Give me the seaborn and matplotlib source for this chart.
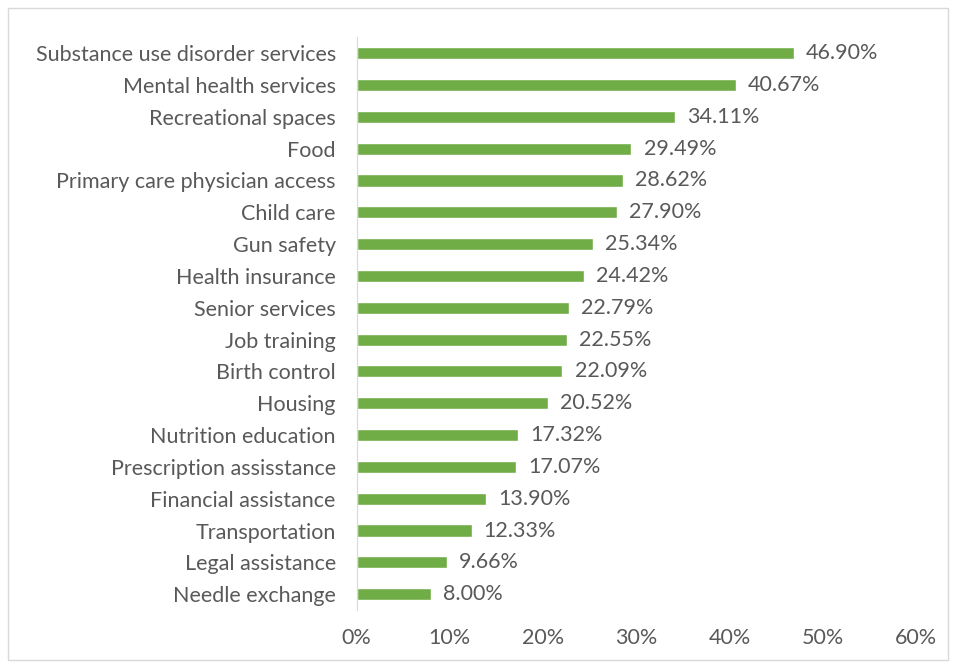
import seaborn as sns
import matplotlib.pyplot as plt
import matplotlib.patches as mpatches
import pandas as pd

servicios = ["Substance use disorder services", "Mental health services", "Recreational spaces",
             "Food", "Primary care physician access", "Child care", "Gun safety",
             "Health insurance", "Senior services", "Job training", "Birth control", "Housing",
             "Nutrition education", "Prescription assisstance", "Financial assistance",
             "Transportation", "Legal assistance", "Needle exchange"]
porcentajes = [46.90, 40.67, 34.11, 29.49, 28.62, 27.90, 25.34, 24.42, 22.79, 22.55,
               22.09, 20.52, 17.32, 17.07, 13.90, 12.33, 9.66, 8.00]

df = pd.DataFrame({"servicio": servicios, "pct": porcentajes})

sns.set_style("white")
plt.rcParams['font.family'] = ['Lato', 'DejaVu Sans']
gris = "#595959"
tam = 15.5

fig = plt.figure(figsize=(9.56, 6.66), dpi=100)
ax = fig.add_axes([0.373, 0.084, 0.585, 0.860])
sns.barplot(data=df, x="pct", y="servicio", color="#70ad47", width=0.38,
            saturation=1, ax=ax)

for i, v in enumerate(porcentajes):
    ax.text(v + 1.3, i, f"{v:.2f}%", va="center", ha="left", fontsize=tam, color=gris)

ax.set_xlim(0, 60)
ax.set_xticks(range(0, 61, 10))
ax.set_xticklabels([f"{t}%" for t in range(0, 61, 10)], fontsize=tam, color=gris)
ax.tick_params(axis="y", labelsize=tam, labelcolor=gris, length=0, pad=15)
ax.tick_params(axis="x", length=0, pad=13)
ax.set_xlabel("")
ax.set_ylabel("")
for lado in ["top", "right", "bottom"]:
    ax.spines[lado].set_visible(False)
ax.spines["left"].set_color("#d9d9d9")

# marco del grafico
fig.patches.append(mpatches.Rectangle((8/956, 6/666), 940/956, 652/666, transform=fig.transFigure,
                                      fill=False, edgecolor="#d9d9d9", linewidth=1))

plt.savefig("out.png", dpi=100)
